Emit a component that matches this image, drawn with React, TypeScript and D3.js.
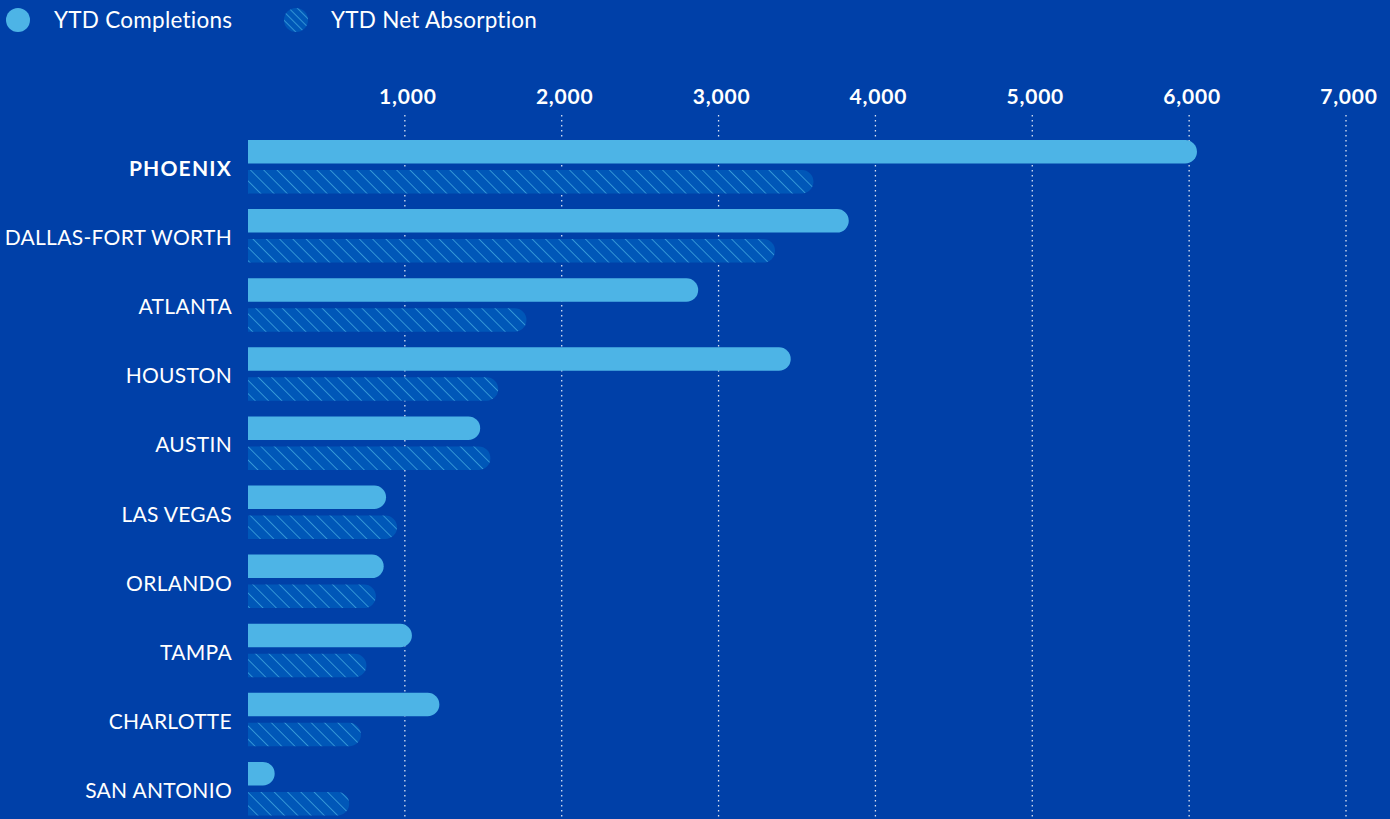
import React from "react";
import * as d3 from "d3";

const categories = ["PHOENIX", "DALLAS-FORT WORTH", "ATLANTA", "HOUSTON", "AUSTIN", "LAS VEGAS", "ORLANDO", "TAMPA", "CHARLOTTE", "SAN ANTONIO"];
const completions = [6050, 3830, 2870, 3460, 1480, 880, 865, 1045, 1220, 170];
const absorption = [3605, 3360, 1775, 1595, 1545, 950, 815, 755, 720, 645];
const ticks = [1000, 2000, 3000, 4000, 5000, 6000, 7000];

const W = 1390, H = 819;
const BG = "#0040A8";
const LIGHT = "#4DB4E6";
const HATCH_BG = "#0057B8";

function barPath(x0: number, x1: number, y: number, h: number) {
  const r = Math.min(h / 2, Math.max(0, x1 - x0));
  const w = x1 - x0;
  if (w <= r) {
    return `M${x0},${y}h${w}a${r},${r} 0 0 1 0,${h}h${-w}Z`;
  }
  return `M${x0},${y}H${x1 - r}A${r},${r} 0 0 1 ${x1},${y + r}V${y + h - r}A${r},${r} 0 0 1 ${x1 - r},${y + h}H${x0}Z`;
}

export default function App() {
  const x = d3.scaleLinear().domain([0, 7000]).range([248, 1346]);
  const y = d3.scaleBand<string>().domain(categories).range([140, 831]).paddingInner(0).paddingOuter(0);
  const bh = 23.5;
  const font = "Lato, 'Open Sans', sans-serif";
  return (
    <svg width={W} height={H} style={{ position: "absolute", left: 0, top: 0, display: "block" }}>
      <defs>
        <pattern id="hatch" patternUnits="userSpaceOnUse" width={9.4} height={9.4} patternTransform="rotate(-45)">
          <rect width={9.4} height={9.4} fill={HATCH_BG} />
          <line x1={0} y1={0} x2={0} y2={9.4} stroke={LIGHT} strokeWidth={1.3} />
        </pattern>
        <pattern id="hatchL" patternUnits="userSpaceOnUse" width={6} height={6} patternTransform="rotate(-45)">
          <rect width={6} height={6} fill={HATCH_BG} />
          <line x1={0} y1={0} x2={0} y2={6} stroke={LIGHT} strokeWidth={1.3} />
        </pattern>
      </defs>
      <rect width={W} height={H} fill={BG} />
      {/* legend */}
      <circle cx={18} cy={20} r={12} fill={LIGHT} />
      <text x={54} y={28} fill="#fff" fontFamily={font} fontSize={22.5} letterSpacing={0.25}>YTD Completions</text>
      <circle cx={296} cy={20} r={12} fill="url(#hatchL)" />
      <text x={331} y={28} fill="#fff" fontFamily={font} fontSize={22.5} letterSpacing={0.25}>YTD Net Absorption</text>
      {/* grid */}
      {ticks.map((t) => (
        <g key={t}>
          <line x1={x(t)} x2={x(t)} y1={115} y2={H} stroke="#fff" strokeOpacity={0.85} strokeWidth={1.3} strokeDasharray="1.5,3.5" />
          <text x={x(t) + 3} y={104} fill="#fff" fontFamily={font} fontWeight={700} fontSize={21} letterSpacing={0.8} textAnchor="middle">
            {d3.format(",")(t)}
          </text>
        </g>
      ))}
      {categories.map((c, i) => {
        const y0 = y(c) as number;
        return (
          <g key={c}>
            <text x={232} y={y0 + 36} fill="#fff" fontFamily={font} fontSize={21} letterSpacing={i === 0 ? 1.2 : 0.3} fontWeight={i === 0 ? 700 : 400} textAnchor="end">
              {c}
            </text>
            <path d={barPath(x(0), x(completions[i]), y0, bh)} fill={LIGHT} />
            <path d={barPath(x(0), x(absorption[i]), y0 + 30, bh)} fill="url(#hatch)" />
          </g>
        );
      })}
    </svg>
  );
}
